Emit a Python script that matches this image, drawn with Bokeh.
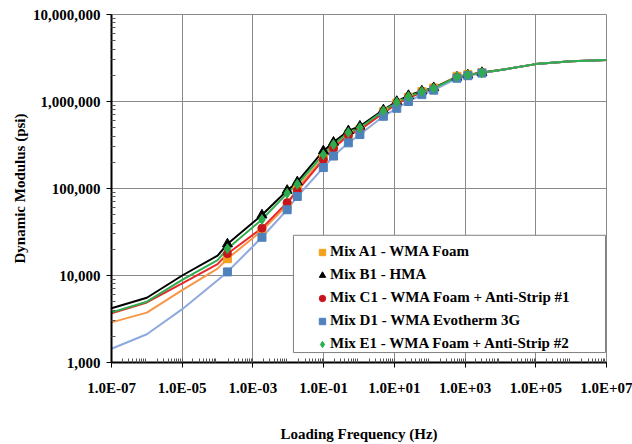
from bokeh.plotting import figure
from bokeh.models import (FixedTicker, CustomJSTickFormatter, Legend, LegendItem)
from bokeh.embed import file_html
from bokeh.resources import INLINE

# ---------------- data ----------------
series_names = [
    "Mix A1 - WMA Foam",
    "Mix B1 - HMA",
    "Mix C1 - WMA Foam + Anti-Strip #1",
    "Mix D1 - WMA Evotherm 3G",
    "Mix E1 - WMA Foam + Anti-Strip #2",
]

# master-curve extension frequencies (line only, Hz)
freq_low = [1e-7, 1e-6, 1e-5, 1e-4]
freq_high = [1e4, 1e5, 1e6, 1e7]
# measured (shifted) frequencies, Hz
freq_meas = [1.9e-4, 1.8e-3, 9.3e-3, 0.018, 0.098, 0.19, 0.5, 1.06,
             4.9, 11.7, 25, 60, 130, 590, 1200, 3000]

# dynamic modulus, psi
a1_low = [2890, 3740, 6800, 12000]
a1_meas = [15600, 32800, 64000, 102000, 225000, 300000, 420000, 480000,
           760000, 960000, 1120000, 1300000, 1430000, 1950000, 2050000, 2150000]
a1_high = [2300000, 2690000, 2900000, 2990000]

b1_low = [4200, 5550, 10000, 16900]
b1_meas = [23000, 49500, 95000, 119000, 270000, 340000, 460000, 520000,
           800000, 1000000, 1170000, 1320000, 1440000, 1900000, 2010000, 2150000]
b1_high = [2300000, 2690000, 2900000, 2990000]

c1_low = [3680, 4900, 8100, 13500]
c1_meas = [17800, 35000, 69000, 94000, 215000, 290000, 410000, 470000,
           740000, 940000, 1100000, 1270000, 1400000, 1900000, 2000000, 2130000]
c1_high = [2300000, 2690000, 2900000, 2990000]

d1_low = [1440, 2110, 4100, 8800]
d1_meas = [11000, 27500, 57000, 81000, 174000, 236000, 335000, 417000,
           676000, 835000, 1000000, 1200000, 1350000, 1850000, 1980000, 2120000]
d1_high = [2300000, 2690000, 2900000, 2990000]

e1_low = [3770, 5000, 8900, 15000]
e1_meas = [20300, 44000, 88000, 112000, 245000, 320000, 440000, 500000,
           780000, 980000, 1140000, 1300000, 1420000, 1920000, 2020000, 2140000]
e1_high = [2300000, 2690000, 2900000, 2990000]

x_ticks = [1e-7, 1e-5, 1e-3, 1e-1, 1e1, 1e3, 1e5, 1e7]
x_tick_labels = ["1.0E-07", "1.0E-05", "1.0E-03", "1.0E-01",
                 "1.0E+01", "1.0E+03", "1.0E+05", "1.0E+07"]
y_ticks = [1e3, 1e4, 1e5, 1e6, 1e7]
y_tick_labels = ["1,000", "10,000", "100,000", "1,000,000", "10,000,000"]

# ---------------- styling ----------------
FONT = "Liberation Serif"
line_colors = ["#F79646", "#000000", "#E8282B", "#8EA9DB", "#2EAD4E"]
marker_colors = ["#F2A01E", "#000000", "#C8141C", "#4F81BD", "#2EAD4E"]
markers = ["square", "triangle", "circle", "square", "diamond"]
marker_sizes = [8, 10, 8, 8, 10]

# legend frame extent (layout, in axis units: lower-right corner of the plot)
legend_frame = dict(left=[0.0140], right=[9.38e6], top=[29000], bottom=[1301])

p = figure(width=632, height=444, x_axis_type="log", y_axis_type="log",
           x_range=(1e-7, 1e7), y_range=(1e3, 1e7),
           output_backend="svg", toolbar_location=None,
           min_border_left=111, min_border_right=26,
           min_border_top=14, min_border_bottom=80)
p.background_fill_color = "white"
p.border_fill_color = "white"
p.outline_line_color = "#8a8a8a"
p.outline_line_width = 1

minor_x = []
for n in range(-7, 7):
    for k in range(1, 10):
        v = k * 10.0 ** n
        if k == 1 and n % 2 != 0:
            minor_x.append(v)
        elif k > 1:
            minor_x.append(v)
minor_y = [k * 10.0 ** n for n in range(3, 7) for k in range(2, 10)]

p.xaxis.ticker = FixedTicker(ticks=x_ticks, minor_ticks=minor_x)
p.yaxis.ticker = FixedTicker(ticks=y_ticks, minor_ticks=minor_y)
p.xgrid.ticker = FixedTicker(ticks=x_ticks)
p.ygrid.ticker = FixedTicker(ticks=y_ticks)
for g in (p.xgrid, p.ygrid):
    g.grid_line_color = "#8a8a8a"
    g.grid_line_width = 1
    g.minor_grid_line_color = None

fmt_code = """
for (let i = 0; i < tv.length; i++) {
  if (Math.abs(Math.log10(tick) - Math.log10(tv[i])) < 1e-6) return labs[i];
}
return '';
"""
p.xaxis.formatter = CustomJSTickFormatter(args=dict(tv=x_ticks, labs=x_tick_labels), code=fmt_code)
p.yaxis.formatter = CustomJSTickFormatter(args=dict(tv=y_ticks, labs=y_tick_labels), code=fmt_code)

for ax in (p.xaxis[0], p.yaxis[0]):
    ax.axis_line_color = "black"
    ax.axis_line_width = 2
    ax.major_tick_line_color = "black"
    ax.major_tick_in = 0
    ax.major_tick_out = 5
    ax.minor_tick_line_color = "#555555"
    ax.minor_tick_in = 4
    ax.minor_tick_out = 0
    ax.major_label_text_font = FONT
    ax.major_label_text_font_style = "bold"
    ax.major_label_text_font_size = "15px"
    ax.major_label_text_color = "black"
    ax.axis_label_text_font = FONT
    ax.axis_label_text_font_style = "bold"
    ax.axis_label_text_font_size = "15px"
    ax.axis_label_text_color = "black"

p.xaxis.axis_label = "Loading Frequency (Hz)"
p.yaxis.axis_label = "Dynamic Modulus (psi)"
p.xaxis.major_label_standoff = 12
p.xaxis.axis_label_standoff = 27
p.yaxis.major_label_standoff = 6
p.yaxis.axis_label_standoff = 2

lows = [a1_low, b1_low, c1_low, d1_low, e1_low]
meas = [a1_meas, b1_meas, c1_meas, d1_meas, e1_meas]
highs = [a1_high, b1_high, c1_high, d1_high, e1_high]

line_x = freq_low + freq_meas + freq_high
scatter_renderers = []
for i in range(5):
    p.line(line_x, lows[i] + meas[i] + highs[i], line_color=line_colors[i], line_width=2)
for i in range(5):
    r = p.scatter(freq_meas, meas[i], marker=markers[i], size=marker_sizes[i],
                  fill_color=marker_colors[i], line_color=marker_colors[i])
    scatter_renderers.append(r)

# opaque white legend frame with grey border
p.quad(fill_color="white", fill_alpha=1.0, line_color="#7f7f7f", line_width=1,
       **legend_frame)

legend = Legend(items=[LegendItem(label=series_names[i], renderers=[scatter_renderers[i]])
                       for i in range(5)],
                location=(199, 6), margin=0, padding=4, spacing=6,
                glyph_width=16, glyph_height=16, label_height=16,
                label_standoff=0,
                label_text_font=FONT, label_text_font_style="bold",
                label_text_font_size="15px", label_text_color="black",
                background_fill_alpha=0.0, border_line_alpha=0.0)
p.add_layout(legend)

open("out.html", "w").write(file_html(p, INLINE))
